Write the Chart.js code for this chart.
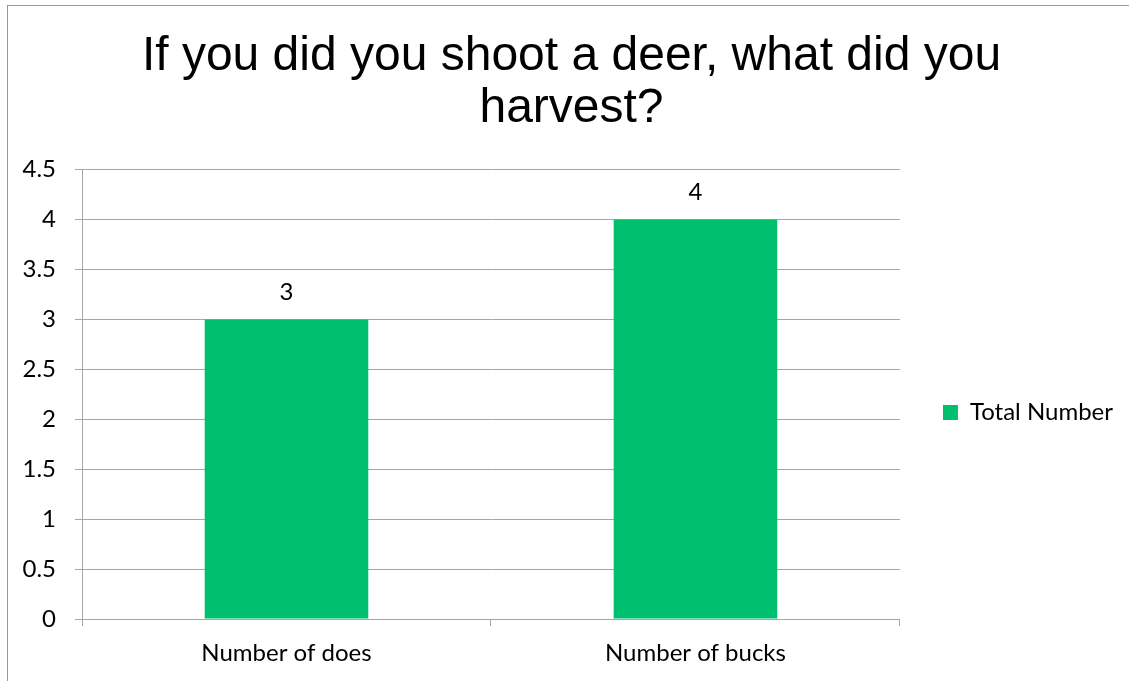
<!DOCTYPE html>
<html>
<head>
<meta charset="utf-8">
<script src="https://cdn.jsdelivr.net/npm/chart.js@4/dist/chart.umd.min.js"></script>
<style>
html,body{margin:0;padding:0;background:#fff;}
#wrap{width:1129px;height:681px;position:relative;}
</style>
</head>
<body>
<div id="wrap"><canvas id="c" width="1129" height="681"></canvas></div>
<script>
const categories = ["Number of does", "Number of bucks"];
const seriesName = "Total Number";
const seriesValues = [3, 4];
const yMin = 0, yMax = 4.5, yStep = 0.5;
const titleLines = ["If you did you shoot a deer, what did you", "harvest?"];

const GREEN = "#00BF6F";
const GRID = "#A6A6A6";
const TICKFONT = "Lato";
const TICKSIZE = 24;

const borderPlugin = {
  id: "outerBorder",
  beforeDraw(chart) {
    const ctx = chart.ctx;
    ctx.save();
    ctx.strokeStyle = "#9A9A9A";
    ctx.lineWidth = 1;
    ctx.strokeRect(7.5, 5.5, 1140, 700);
    ctx.restore();
  }
};

const valueLabels = {
  id: "valueLabels",
  afterDatasetsDraw(chart) {
    const ctx = chart.ctx;
    const meta = chart.getDatasetMeta(0);
    ctx.save();
    ctx.fillStyle = "#000";
    ctx.font = TICKSIZE + "px '" + TICKFONT + "'";
    ctx.textAlign = "center";
    ctx.textBaseline = "middle";
    meta.data.forEach((bar, i) => {
      ctx.fillText(String(chart.data.datasets[0].data[i]), bar.x, bar.y - 27);
    });
    ctx.restore();
  }
};

new Chart(document.getElementById("c"), {
  type: "bar",
  data: {
    labels: categories,
    datasets: [{
      label: seriesName,
      data: seriesValues,
      backgroundColor: GREEN,
      borderWidth: 0,
      categoryPercentage: 0.8,
      barPercentage: 0.5
    }]
  },
  options: {
    responsive: false,
    animation: false,
    devicePixelRatio: 1,
    layout: { padding: { left: 20, right: 6, top: 0, bottom: 0 } },
    plugins: {
      title: {
        display: true,
        text: titleLines,
        color: "#000",
        font: { family: "Liberation Sans", size: 48, weight: "normal", lineHeight: 1.1 },
        padding: { top: 30, bottom: 34 }
      },
      legend: {
        position: "right",
        fullSize: true,
        title: { display: true, text: "", font: { size: 10, lineHeight: 1.2 }, padding: { top: 132, bottom: 0 } },
        labels: {
          color: "#000",
          font: { family: TICKFONT, size: TICKSIZE },
          boxWidth: 15,
          boxHeight: 15,
          padding: 43
        }
      },
      tooltip: { enabled: false }
    },
    scales: {
      x: {
        grid: { display: true, drawOnChartArea: false, drawTicks: true, tickLength: 7, color: GRID, offset: true },
        border: { display: true, color: GRID },
        ticks: { color: "#000", font: { family: TICKFONT, size: TICKSIZE }, padding: 13 },
        afterFit(s) { s.height = 62; }
      },
      y: {
        min: yMin, max: yMax,
        grid: { color: GRID, tickLength: 7, drawTicks: true },
        border: { display: true, color: GRID },
        ticks: {
          stepSize: yStep, color: "#000", font: { family: TICKFONT, size: TICKSIZE }, padding: 19,
          callback: (v) => String(Number(v))
        },
        afterFit(s) { s.width = 62; }
      }
    }
  },
  plugins: [borderPlugin, valueLabels]
});
</script>
</body>
</html>
